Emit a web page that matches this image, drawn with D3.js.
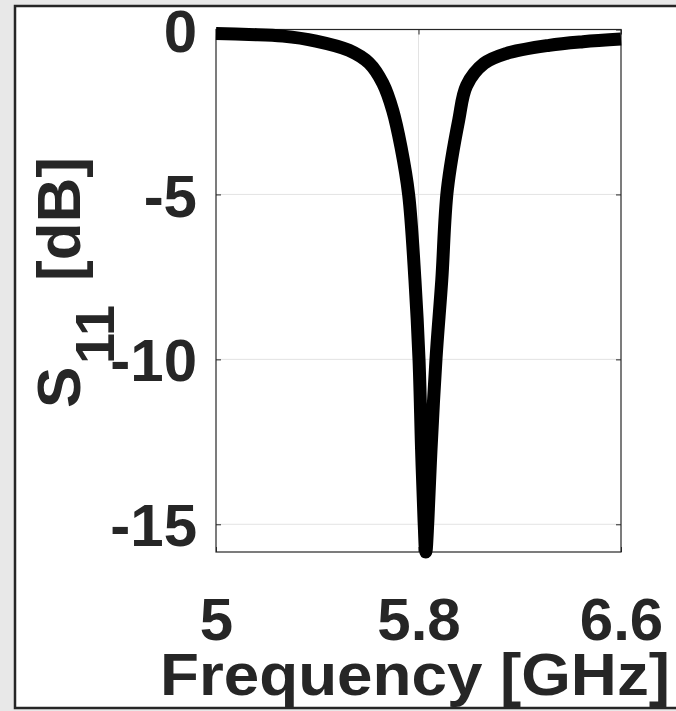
<!DOCTYPE html>
<html>
<head>
<meta charset="utf-8">
<script src="https://cdn.jsdelivr.net/npm/d3@7/dist/d3.min.js"></script>
<style>
  body { margin: 0; background: #e8e8e8; }
  text { font-family: "Liberation Sans", Arial, Helvetica, sans-serif; font-weight: bold; fill: #262626; }
</style>
</head>
<body>
<div id="container"></div>
<script>
// S11 sweep
let freqGHz = [5.0, 5.13, 5.264, 5.395, 5.525, 5.605, 5.659, 5.698, 5.731, 5.761, 5.786, 5.802, 5.812, 5.822, 5.829,
               5.837, 5.849, 5.869, 5.892, 5.914, 5.959, 5.99, 6.059, 6.146, 6.316, 6.45, 6.6];
let s11dB = [-0.12, -0.15, -0.2, -0.35, -0.63, -1.02, -1.63, -2.45, -3.57, -5.0, -7.6, -10.0, -12.7, -14.9, -15.84,
             -14.9, -12.8, -10.0, -7.59, -4.85, -2.74, -1.7, -1.03, -0.73, -0.48, -0.37, -0.29];
let xTicks = [5, 5.8, 6.6];
let yTicks = [0, -5, -10, -15];
let xDomain = [5, 6.6];
let yDomain = [-15.84, 0];

let w = 676;
let h = 711;
let padL = 216, padR = 621, padT = 29.5, padB = 552;

let viz = d3.select("#container")
  .append("svg")
    .attr("width", w)
    .attr("height", h)
    .style("display", "block")
;

// white figure panel
viz.append("rect")
  .attr("x", 15).attr("y", 6)
  .attr("width", 700).attr("height", 702)
  .attr("fill", "#fff")
  .attr("stroke", "#262626")
  .attr("stroke-width", 2.5);

let xScale = d3.scaleLinear().domain(xDomain).range([padL, padR]);
let yScale = d3.scaleLinear().domain(yDomain).range([padB, padT]);

// grid
let grid = viz.append("g").attr("class", "grid");
grid.selectAll(".gx").data(xTicks.slice(1, -1)).enter().append("line")
  .attr("x1", d => xScale(d)).attr("x2", d => xScale(d))
  .attr("y1", padT).attr("y2", padB)
  .attr("stroke", "#e3e3e3").attr("stroke-width", 1);
grid.selectAll(".gy").data(yTicks.slice(1)).enter().append("line")
  .attr("x1", padL).attr("x2", padR)
  .attr("y1", d => yScale(d)).attr("y2", d => yScale(d))
  .attr("stroke", "#e3e3e3").attr("stroke-width", 1);

let fmt = d => String(d);

// axes (ticks point inward)
let xAxisGroup = viz.append("g").attr("transform", "translate(0," + padB + ")");
xAxisGroup.call(d3.axisBottom(xScale).tickValues(xTicks).tickFormat(fmt).tickSizeInner(-5).tickSizeOuter(0).tickPadding(45));
let yAxisGroup = viz.append("g").attr("transform", "translate(" + padL + ",0)");
yAxisGroup.call(d3.axisLeft(yScale).tickValues(yTicks).tickFormat(fmt).tickSizeInner(-5).tickSizeOuter(0).tickPadding(19));
let xTopGroup = viz.append("g").attr("transform", "translate(0," + padT + ")");
xTopGroup.call(d3.axisTop(xScale).tickValues(xTicks).tickFormat("").tickSizeInner(-5).tickSizeOuter(0));
let yRightGroup = viz.append("g").attr("transform", "translate(" + padR + ",0)");
yRightGroup.call(d3.axisRight(yScale).tickValues(yTicks).tickFormat("").tickSizeInner(-5).tickSizeOuter(0));

viz.selectAll(".domain").remove();
viz.selectAll(".tick line").attr("stroke", "#262626");
viz.selectAll(".tick text").attr("font-size", 60).attr("fill", "#262626");
yAxisGroup.selectAll(".tick text").attr("dy", "0.36em");
xAxisGroup.selectAll(".tick text").attr("dy", "0.71em");

// axes box
viz.append("rect")
  .attr("x", padL).attr("y", padT)
  .attr("width", padR - padL).attr("height", padB - padT)
  .attr("fill", "none").attr("stroke", "#262626").attr("stroke-width", 1.2);

// curve
let points = freqGHz.map((f, i) => [f, s11dB[i]]);
let line = d3.line()
  .x(d => xScale(d[0]))
  .y(d => yScale(d[1]))
  .curve(d3.curveCatmullRom.alpha(0.5));

viz.append("path")
  .datum(points)
  .attr("d", line)
  .attr("fill", "none")
  .attr("stroke", "#000")
  .attr("stroke-width", 13)
  .attr("stroke-linejoin", "round")
  .attr("stroke-linecap", "butt");

// axis labels
viz.append("text")
  .attr("x", 415).attr("y", 695)
  .attr("text-anchor", "middle")
  .attr("font-size", 60)
  .attr("textLength", 510)
  .attr("lengthAdjust", "spacingAndGlyphs")
  .text("Frequency [GHz]");

let ylab = viz.append("text")
  .attr("transform", "translate(80,0) rotate(-90)")
  .attr("font-size", 62);
ylab.append("tspan").attr("x", -408).attr("y", 0).text("S");
ylab.append("tspan").attr("x", -364).attr("y", 34).attr("font-size", 56).text("11");
ylab.append("tspan").attr("x", -281).attr("y", 0).text("[dB]");
</script>
</body>
</html>
